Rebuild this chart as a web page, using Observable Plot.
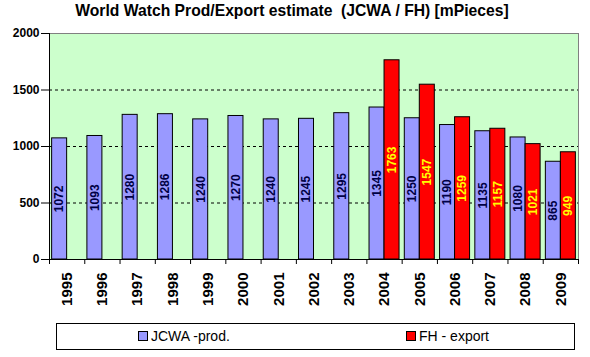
<!DOCTYPE html>
<html>
<head>
<meta charset="utf-8">
<script src="https://cdn.jsdelivr.net/npm/d3@7"></script>
<script src="https://cdn.jsdelivr.net/npm/@observablehq/plot@0.6"></script>
<style>
  body { margin: 0; background: #fff; }
  #wrap { position: relative; width: 590px; height: 357px; font-family: "Liberation Sans", Arial, sans-serif; color: #000; }
  #title { position: absolute; left: 0; top: 2px; width: 584px; text-align: center; font-weight: bold; font-size: 15.7px; white-space: pre; }
  #chart { position: absolute; left: 0; top: 28px; }
  #legend { position: absolute; left: 56px; top: 323px; width: 519px; height: 27px; border: 1px solid #000; box-sizing: border-box; font-size: 14px; }
  .item { position: absolute; top: 4px; white-space: pre; line-height: 16px; }
  .sw { display: inline-block; width: 8px; height: 8px; border: 1px solid #000; margin-right: 3px; vertical-align: 0px; }
</style>
</head>
<body>
<div id="wrap">
  <div id="title">World Watch Prod/Export estimate  (JCWA / FH) [mPieces]</div>
  <div id="chart"></div>
  <div id="legend"></div>
</div>
<script>
const years = ["1995","1996","1997","1998","1999","2000","2001","2002","2003","2004","2005","2006","2007","2008","2009"];
const prodValues = [1072,1093,1280,1286,1240,1270,1240,1245,1295,1345,1250,1190,1135,1080,865];
const exportYears = ["2004","2005","2006","2007","2008","2009"];
const exportValues = [1763,1547,1259,1157,1021,949];
const yTicks = [0,500,1000,1500,2000];
const seriesNames = ["JCWA -prod.", "FH - export"];
const seriesColors = ["#9999FF", "#FF0000"];

const prodData = years.map((y, i) => ({year: y, value: prodValues[i]}));
const exportData = exportYears.map((y, i) => ({year: y, value: exportValues[i]}));

const W = 590, H = 290, mL = 49, mR = 12, mT = 5, mB = 59;
const pIn = 0.149, pOut = pIn / 2;
const step = (W - mL - mR) / (years.length - pIn + 2 * pOut);
const half = step * (1 - pIn) / 2;
const plotH = H - mT - mB;
const font = "'Liberation Sans', Arial, sans-serif";

const chart = Plot.plot({
  width: W, height: H,
  marginLeft: mL, marginRight: mR, marginTop: mT, marginBottom: mB,
  style: {fontFamily: font, background: "transparent", overflow: "visible", color: "#000"},
  x: {type: "band", domain: years, paddingInner: pIn, paddingOuter: pOut, round: false, axis: null, label: null},
  y: {domain: [0, 2000], axis: null, label: null},
  marks: [
    Plot.frame({fill: "#CCFFCC", stroke: "none"}),
    Plot.ruleY([500, 1000, 1500], {stroke: "#000", strokeDasharray: "3,3"}),
    Plot.ruleY([2000], {stroke: "#808080"}),
    Plot.ruleX([years[years.length - 1]], {dx: step / 2, stroke: "#808080"}),
    Plot.barY(prodData, {x: "year", y: "value", fill: seriesColors[0], stroke: "#000", strokeWidth: 1, insetRight: half}),
    Plot.barY(exportData, {x: "year", y: "value", fill: seriesColors[1], stroke: "#000", strokeWidth: 1, insetLeft: half}),
    Plot.text(prodData, {x: "year", y: d => d.value / 2, text: d => String(d.value), rotate: -90, dx: -half / 2,
      fill: "#000044", fontWeight: "bold", fontSize: 12}),
    Plot.text(exportData, {x: "year", y: d => d.value / 2, text: d => String(d.value), rotate: -90, dx: half / 2,
      fill: "#FFFF00", fontWeight: "bold", fontSize: 12}),
    Plot.ruleY([0], {stroke: "#000"}),
    Plot.ruleX([years[0]], {dx: -step / 2, stroke: "#000"}),
    Plot.ruleX(years, {x: d => d, dx: -step / 2, stroke: "#000", insetTop: plotH, insetBottom: -5}),
    Plot.ruleX([years[years.length - 1]], {dx: step / 2, stroke: "#000", insetTop: plotH, insetBottom: -5}),
    Plot.axisY({ticks: yTicks, tickSize: 8, tickPadding: 2, fontSize: 12, fontWeight: "bold", label: null, tickFormat: d => String(d)}),
    Plot.text(years, {x: d => d, frameAnchor: "bottom", dy: 13, rotate: -90, textAnchor: "end", lineAnchor: "middle",
      fontSize: 15, fontWeight: "bold", fill: "#000"})
  ]
});
document.getElementById("chart").appendChild(chart);

const legend = document.getElementById("legend");
const legendLeft = [81, 349];
seriesNames.forEach((name, i) => {
  const item = document.createElement("div");
  item.className = "item";
  item.style.left = legendLeft[i] + "px";
  const sw = document.createElement("span");
  sw.className = "sw";
  sw.style.background = seriesColors[i];
  item.appendChild(sw);
  item.appendChild(document.createTextNode(name));
  legend.appendChild(item);
});
</script>
</body>
</html>
